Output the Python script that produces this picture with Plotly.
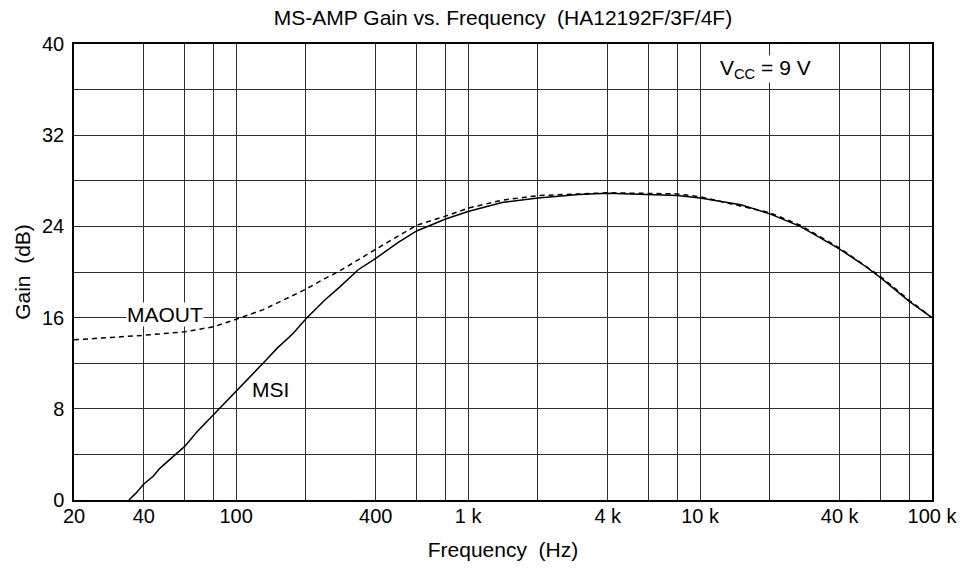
import plotly.graph_objects as go

# ---- data ----
msi_freq = [34.5, 37, 40, 44, 47, 50, 54, 60, 68, 75, 80, 90, 100, 120, 135, 150, 176, 200,
            240, 280, 300, 336, 400, 500, 600, 700, 800, 1000, 1400, 2000, 3000, 4000, 6000,
            8000, 10000, 15000, 20000, 27000, 33000, 40000, 50000, 60000, 80000, 100000]
msi_gain = [0.0, 0.6, 1.4, 2.1, 2.8, 3.3, 3.9, 4.7, 6.0, 6.9, 7.5, 8.5, 9.5, 11.2, 12.3, 13.3,
            14.6, 15.9, 17.5, 18.7, 19.3, 20.2, 21.2, 22.6, 23.6, 24.15, 24.65, 25.3, 26.1, 26.5,
            26.8, 26.9, 26.8, 26.7, 26.5, 25.9, 25.1, 24.0, 23.0, 22.0, 20.7, 19.5, 17.4, 16.0]

maout_freq = [20, 31, 40, 60, 80, 100, 131, 170, 200, 240, 280, 400, 600, 800, 1000, 1400, 2000,
              4000, 8000, 10000, 20000, 27000, 40000, 60000, 80000, 100000]
maout_gain = [14.05, 14.3, 14.45, 14.75, 15.2, 15.85, 16.7, 17.8, 18.5, 19.4, 20.1, 22.0, 24.1, 24.9,
              25.6, 26.3, 26.7, 26.95, 26.85, 26.6, 25.2, 24.1, 22.1, 19.6, 17.5, 16.0]

x_tick_vals = [20, 40, 100, 400, 1000, 4000, 10000, 40000, 100000]
x_tick_text = ["20", "40", "100", "400", "1 k", "4 k", "10 k", "40 k", "100 k"]
x_minor_vals = [60, 80, 200, 600, 800, 2000, 6000, 8000, 20000, 60000, 80000]
y_tick_vals = [0, 8, 16, 24, 32, 40]
y_minor_vals = [4, 12, 20, 28, 36]

FONT = "Liberation Sans, Arial, sans-serif"
GRID = "#2e2e2e"

fig = go.Figure()
fig.add_trace(go.Scatter(x=maout_freq, y=maout_gain, mode="lines",
                         line=dict(color="black", width=1.5, dash="5px,4px"),
                         name="MAOUT", showlegend=False))
fig.add_trace(go.Scatter(x=msi_freq, y=msi_gain, mode="lines",
                         line=dict(color="black", width=1.5),
                         name="MSI", showlegend=False))

fig.update_xaxes(type="log", range=[1.30103, 5], tickvals=x_tick_vals, ticktext=x_tick_text,
                 showgrid=True, gridcolor=GRID, gridwidth=1,
                 minor=dict(tickvals=x_minor_vals, showgrid=True, gridcolor=GRID, gridwidth=1, ticks=""),
                 showline=True, linecolor="black", linewidth=1.5, mirror=True,
                 ticks="", zeroline=False, tickfont=dict(size=20, color="black"),
                 ticklabelstandoff=-3, automargin=False,
                 title=dict(text="Frequency\u00a0\u00a0(Hz)", font=dict(size=21, color="black"), standoff=17))
fig.update_yaxes(range=[0, 40], tickvals=y_tick_vals,
                 showgrid=True, gridcolor=GRID, gridwidth=1,
                 minor=dict(tickvals=y_minor_vals, showgrid=True, gridcolor=GRID, gridwidth=1, ticks=""),
                 showline=True, linecolor="black", linewidth=1.5, mirror=True,
                 ticks="", zeroline=False, tickfont=dict(size=20, color="black"),
                 ticklabelstandoff=4, automargin=False,
                 title=dict(text="Gain\u00a0\u00a0(dB)", font=dict(size=21, color="black"), standoff=6))

fig.add_annotation(x=1.694, y=16.3, xref="x", yref="y", text="MAOUT", showarrow=False,
                   font=dict(size=21, color="black"), bgcolor="white", borderpad=0)
fig.add_annotation(x=2.146, y=9.7, xref="x", yref="y", text="MSI", showarrow=False,
                   font=dict(size=21, color="black"))
fig.add_annotation(x=4.081, y=37.8, xref="x", yref="y", text="V<sub>CC</sub> = 9 V",
                   showarrow=False, xanchor="left", font=dict(size=21, color="black"),
                   bgcolor="white", borderpad=0)

fig.update_layout(
    width=969, height=571,
    margin=dict(l=74, r=37, t=44, b=71),
    paper_bgcolor="white", plot_bgcolor="white",
    font=dict(family=FONT, color="black"),
    title=dict(text="MS-AMP Gain vs. Frequency\u00a0\u00a0(HA12192F/3F/4F)",
               x=0.5, xref="paper", xanchor="center",
               y=1 - 17.5 / 571, yref="container", yanchor="middle",
               font=dict(size=21, color="black")),
)

fig.write_html("out.html", config={"displayModeBar": False},
               post_script="document.body.style.margin='0';document.body.style.overflow='hidden';")
